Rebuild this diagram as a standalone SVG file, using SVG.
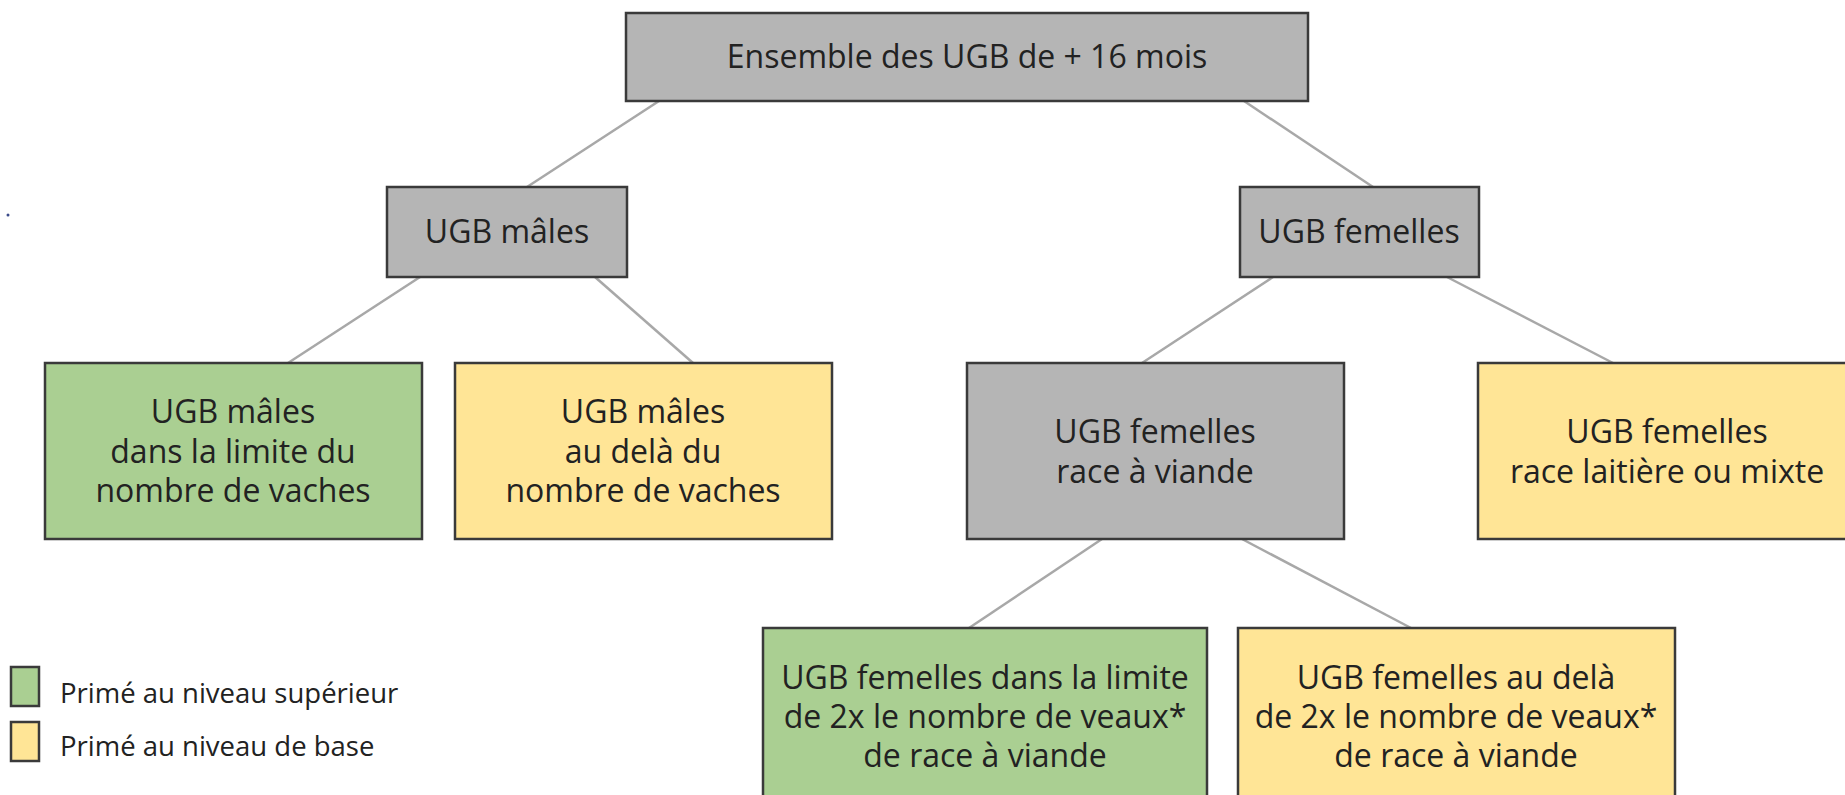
<svg xmlns="http://www.w3.org/2000/svg" width="1845" height="795" viewBox="0 0 1845 795">
<style>
.box{stroke:#3a3a3a;stroke-width:2.5}
.gray{fill:#b5b5b5}
.green{fill:#aacf92}
.yellow{fill:#ffe596}
.t{font-family:"Open Sans","Noto Sans",sans-serif;font-size:32px;fill:#222;text-anchor:middle}
.lg{font-family:"Open Sans","Noto Sans",sans-serif;font-size:27.5px;fill:#222}
.c{stroke:#a8a8a8;stroke-width:2.5;fill:none}
</style>
<rect width="1845" height="795" fill="#ffffff"/>
<g id="connectors">
<line class="c" x1="659" y1="101" x2="527" y2="187"/>
<line class="c" x1="1244" y1="101" x2="1373" y2="187"/>
<line class="c" x1="420" y1="277" x2="288" y2="363"/>
<line class="c" x1="595" y1="277" x2="693" y2="363"/>
<line class="c" x1="1273" y1="277" x2="1142" y2="363"/>
<line class="c" x1="1447" y1="277" x2="1613" y2="363"/>
<line class="c" x1="1102" y1="539" x2="969" y2="628"/>
<line class="c" x1="1242" y1="539" x2="1411" y2="628"/>
</g>
<g id="root">
<rect class="box gray" x="626" y="13" width="682" height="88"/>
<text class="t" x="967" y="68">Ensemble des UGB de + 16 mois</text>
</g>
<g id="males">
<rect class="box gray" x="387" y="187" width="240" height="90"/>
<text class="t" x="507" y="243">UGB mâles</text>
</g>
<g id="femelles">
<rect class="box gray" x="1240" y="187" width="239" height="90"/>
<text class="t" x="1359" y="243">UGB femelles</text>
</g>
<g id="males-limite">
<rect class="box green" x="45" y="363" width="377" height="176"/>
<text class="t" x="233" y="423">UGB mâles</text>
<text class="t" x="233" y="463">dans la limite du</text>
<text class="t" x="233" y="502">nombre de vaches</text>
</g>
<g id="males-dela">
<rect class="box yellow" x="455" y="363" width="377" height="176"/>
<text class="t" x="643" y="423">UGB mâles</text>
<text class="t" x="643" y="463">au delà du</text>
<text class="t" x="643" y="502">nombre de vaches</text>
</g>
<g id="femelles-viande">
<rect class="box gray" x="967" y="363" width="377" height="176"/>
<text class="t" x="1155" y="443">UGB femelles</text>
<text class="t" x="1155" y="483">race à viande</text>
</g>
<g id="femelles-laitiere">
<rect class="box yellow" x="1478" y="363" width="380" height="176"/>
<text class="t" x="1667" y="443">UGB femelles</text>
<text class="t" x="1667" y="483">race laitière ou mixte</text>
</g>
<g id="femelles-limite">
<rect class="box green" x="763" y="628" width="444" height="190"/>
<text class="t" x="985" y="689">UGB femelles dans la limite</text>
<text class="t" x="985" y="728">de 2x le nombre de veaux*</text>
<text class="t" x="985" y="767">de race à viande</text>
</g>
<g id="femelles-dela">
<rect class="box yellow" x="1238" y="628" width="437" height="190"/>
<text class="t" x="1456" y="689">UGB femelles au delà</text>
<text class="t" x="1456" y="728">de 2x le nombre de veaux*</text>
<text class="t" x="1456" y="767">de race à viande</text>
</g>
<g id="legend">
<rect class="box green" x="11" y="667" width="28" height="39" stroke-width="2"/>
<text class="lg" x="60" y="703">Primé au niveau supérieur</text>
<rect class="box yellow" x="11" y="722" width="28" height="39" stroke-width="2"/>
<text class="lg" x="60" y="756">Primé au niveau de base</text>
</g>
<circle cx="8" cy="215" r="1.5" fill="#3a4a8a"/>
</svg>
